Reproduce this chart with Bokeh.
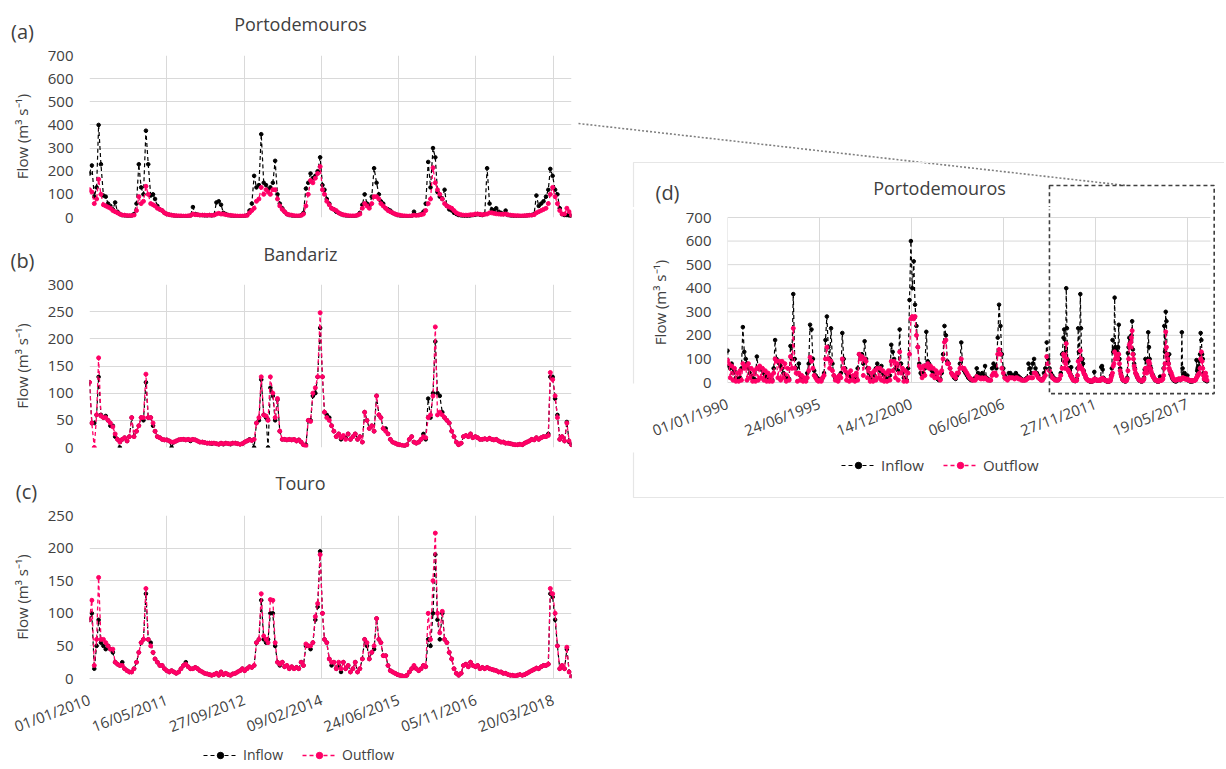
import pandas as pd
from bokeh.plotting import figure
from bokeh.layouts import row, column
from bokeh.models import (Range1d, FixedTicker, Label, Legend, LegendItem,
                          BoxAnnotation, ColumnDataSource, DatetimeTickFormatter)
from bokeh.embed import file_html
from bokeh.resources import INLINE

# ---------------- data ----------------
LEFT_START = "2010-01-01"
LEFT_END = "2018-07-16"
D_START = "1990-01-01"
D_END = "2018-09-29"
LEFT_TICKS = ["2010-01-01", "2011-05-16", "2012-09-27", "2014-02-09",
              "2015-06-24", "2016-11-05", "2018-03-20"]
D_TICKS = ["1990-01-01", "1995-06-24", "2000-12-14", "2006-06-06",
           "2011-11-27", "2017-05-19"]
LEGEND_LABELS = ["Inflow", "Outflow"]
TITLES = ["Portodemouros", "Bandariz", "Touro", "Portodemouros"]
PANEL_TAGS = ["(a)", "(b)", "(c)", "(d)"]
Y_LABEL = "Flow (m\u00b3 s\u207b\u00b9)"
ZOOM_BOX_DATES = ["2009-03-01", "2018-12-20"]   # dashed box in (d): period shown in (a)
ZOOM_BOX_FLOWS = [836, -47]

# Portodemouros 2010-2018 (1st and 16th of each month)
PORTO_IN = [
    190, 225, 90, 130, 400, 230, 95, 90, 60, 50, 35, 65, 25, 15, 10, 8, 7, 6, 8, 15, 60, 230, 130, 100,
    375, 230, 95, 100, 80, 50, 35, 30, 20, 15, 12, 10, 8, 6, 5, 5, 5, 5, 6, 8, 45, 15, 12, 10,
    10, 8, 8, 10, 8, 10, 65, 70, 55, 20, 15, 10, 8, 6, 5, 5, 5, 5, 6, 10, 30, 60, 180, 130,
    140, 360, 150, 140, 120, 130, 150, 245, 100, 60, 40, 25, 15, 10, 8, 6, 5, 5, 10, 20, 125, 150, 190, 170,
    180, 200, 260, 140, 120, 80, 60, 40, 35, 25, 20, 15, 10, 8, 6, 5, 5, 6, 10, 20, 55, 100, 60, 50,
    90, 213, 150, 100, 70, 60, 40, 35, 30, 20, 15, 10, 8, 6, 5, 5, 5, 6, 25, 10, 10, 15, 25, 60,
    240, 130, 300, 260, 110, 90, 80, 120, 50, 35, 30, 20, 15, 10, 8, 6, 5, 5, 8, 10, 12, 15, 12, 10,
    15, 213, 60, 35, 30, 40, 25, 20, 15, 30, 10, 8, 6, 5, 5, 5, 5, 6, 8, 10, 10, 15, 95, 50,
    60, 70, 90, 120, 210, 180, 120, 100, 40, 15, 10, 10, 8, 5]
PORTO_OUT = [
    120, 110, 60, 80, 165, 100, 55, 50, 45, 40, 30, 25, 20, 15, 10, 10, 8, 8, 8, 10, 30, 90, 60, 70,
    135, 100, 60, 55, 50, 40, 35, 30, 20, 15, 12, 10, 8, 8, 7, 7, 6, 6, 7, 8, 15, 12, 12, 10,
    10, 10, 9, 10, 9, 10, 15, 18, 15, 15, 12, 10, 9, 8, 7, 6, 6, 6, 7, 8, 20, 30, 40, 70,
    80, 130, 100, 120, 110, 100, 120, 120, 80, 50, 35, 25, 15, 12, 10, 8, 7, 7, 8, 15, 50, 100, 160, 150,
    170, 190, 220, 120, 100, 70, 55, 40, 35, 30, 20, 15, 12, 10, 8, 7, 7, 7, 10, 15, 40, 60, 50, 40,
    60, 90, 90, 80, 60, 50, 40, 30, 25, 20, 15, 12, 10, 8, 7, 6, 6, 7, 10, 8, 10, 12, 15, 30,
    60, 80, 215, 150, 120, 100, 80, 60, 50, 45, 40, 30, 20, 15, 12, 10, 10, 10, 12, 12, 15, 15, 14, 12,
    14, 15, 20, 20, 18, 16, 15, 14, 14, 15, 12, 10, 9, 8, 8, 7, 7, 8, 8, 9, 10, 12, 20, 25,
    30, 35, 40, 60, 100, 130, 90, 60, 30, 15, 15, 40, 25, 10]

# Bandariz 2010-2018
BAND_IN = [
    120, 45, 45, 60, 130, 60, 55, 58, 50, 40, 40, 20, 15, 0, 15, 18, 12, 20, 55, 20, 30, 40, 55, 50,
    120, 55, 55, 40, 30, 20, 18, 15, 14, 14, 12, 0, 10, 12, 14, 15, 15, 14, 15, 12, 15, 14, 12, 10,
    10, 9, 8, 8, 7, 8, 7, 6, 8, 6, 8, 7, 6, 8, 8, 7, 6, 7, 10, 12, 15, 13, 0, 45,
    50, 125, 60, 55, 0, 110, 95, 50, 88, 30, 15, 15, 14, 15, 14, 15, 12, 14, 10, 5, 5, 50, 50, 95,
    100, 130, 220, 130, 65, 60, 55, 40, 30, 20, 25, 15, 20, 18, 25, 15, 20, 25, 15, 20, 10, 65, 50, 35,
    40, 30, 95, 60, 55, 35, 35, 25, 15, 10, 8, 6, 5, 4, 3, 5, 15, 20, 10, 8, 10, 15, 25, 15,
    90, 55, 100, 195, 100, 95, 65, 55, 50, 45, 30, 20, 10, 5, 8, 20, 22, 20, 25, 18, 20, 18, 15, 15,
    16, 15, 17, 15, 14, 15, 12, 10, 10, 8, 8, 7, 6, 5, 5, 6, 5, 8, 10, 12, 15, 14, 18, 15,
    18, 20, 20, 25, 130, 130, 90, 60, 15, 20, 12, 47, 10, 5]
BAND_OUT = [
    120, 45, 0, 60, 165, 58, 55, 55, 50, 45, 38, 25, 15, 10, 15, 18, 12, 20, 55, 20, 30, 40, 55, 55,
    135, 55, 55, 45, 30, 20, 18, 15, 14, 14, 12, 10, 10, 12, 14, 15, 15, 14, 15, 14, 15, 14, 12, 10,
    10, 9, 8, 8, 8, 8, 7, 6, 8, 7, 8, 7, 7, 8, 8, 7, 6, 7, 10, 12, 14, 13, 15, 45,
    55, 130, 60, 58, 50, 130, 100, 55, 90, 30, 15, 15, 14, 15, 14, 15, 12, 14, 10, 5, 3, 50, 48, 100,
    110, 130, 248, 130, 65, 55, 50, 40, 30, 20, 25, 18, 22, 15, 25, 15, 20, 25, 15, 20, 10, 65, 50, 35,
    40, 30, 95, 60, 55, 35, 30, 25, 15, 10, 8, 6, 5, 4, 3, 5, 15, 20, 10, 8, 10, 15, 20, 18,
    55, 60, 95, 222, 60, 65, 60, 55, 50, 45, 30, 20, 10, 5, 8, 20, 22, 20, 25, 18, 20, 18, 15, 15,
    16, 15, 17, 15, 14, 15, 12, 10, 10, 8, 8, 7, 6, 5, 5, 6, 5, 8, 10, 12, 15, 14, 18, 15,
    18, 20, 20, 22, 138, 125, 95, 55, 15, 20, 12, 45, 12, 5]

# Touro 2010-2018
TOURO_IN = [
    90, 100, 15, 50, 90, 55, 50, 45, 50, 45, 40, 25, 22, 20, 25, 15, 12, 10, 10, 15, 25, 40, 55, 60,
    130, 60, 55, 40, 30, 25, 20, 20, 15, 12, 10, 12, 10, 8, 10, 15, 20, 25, 18, 15, 15, 17, 15, 12,
    10, 8, 7, 6, 5, 6, 8, 5, 10, 6, 8, 6, 5, 7, 8, 10, 12, 15, 12, 15, 18, 17, 20, 55,
    60, 120, 60, 55, 60, 100, 100, 50, 25, 20, 25, 18, 20, 15, 18, 15, 17, 15, 25, 20, 50, 50, 45, 55,
    90, 110, 195, 100, 60, 55, 30, 20, 25, 15, 20, 10, 25, 15, 20, 10, 15, 25, 10, 15, 30, 60, 50, 30,
    40, 45, 92, 60, 55, 35, 35, 20, 12, 10, 8, 6, 5, 4, 3, 5, 10, 15, 18, 15, 12, 15, 20, 18,
    60, 50, 100, 190, 90, 60, 100, 60, 55, 40, 30, 15, 8, 5, 8, 20, 22, 18, 25, 20, 18, 20, 15, 17,
    15, 17, 15, 14, 13, 12, 10, 10, 8, 8, 6, 5, 5, 4, 5, 6, 5, 6, 8, 10, 12, 14, 16, 15,
    18, 20, 20, 22, 130, 125, 90, 50, 15, 20, 15, 45, 10, 3]
TOURO_OUT = [
    90, 120, 20, 60, 155, 60, 60, 55, 50, 45, 45, 25, 22, 20, 20, 15, 12, 10, 10, 15, 25, 40, 55, 60,
    138, 60, 50, 40, 30, 25, 20, 20, 15, 12, 10, 12, 10, 8, 10, 15, 20, 22, 18, 15, 15, 17, 15, 12,
    10, 8, 7, 6, 5, 6, 8, 5, 10, 6, 8, 6, 5, 7, 8, 10, 12, 15, 12, 15, 18, 17, 20, 55,
    60, 130, 65, 60, 55, 121, 120, 55, 25, 22, 25, 18, 20, 15, 18, 15, 17, 15, 25, 20, 53, 50, 50, 55,
    95, 115, 190, 100, 60, 55, 30, 25, 25, 15, 25, 15, 25, 15, 20, 10, 15, 25, 10, 15, 30, 60, 55, 30,
    40, 50, 92, 60, 55, 35, 35, 20, 12, 10, 8, 6, 5, 4, 3, 5, 10, 15, 20, 15, 12, 15, 20, 18,
    100, 60, 150, 223, 100, 70, 103, 60, 55, 40, 30, 15, 8, 5, 8, 20, 22, 18, 25, 20, 18, 20, 15, 17,
    15, 17, 15, 14, 13, 12, 10, 10, 8, 8, 6, 5, 5, 4, 5, 6, 5, 6, 8, 10, 12, 14, 16, 15,
    18, 20, 20, 22, 138, 130, 100, 50, 15, 20, 15, 48, 10, 3]

# Portodemouros 1990-2009 (monthly), continued by PORTO_IN / PORTO_OUT
PD_IN_EARLY = [
    135, 70, 60, 80, 40, 50, 20, 15, 10, 20, 60, 235,
    130, 100, 80, 60, 40, 30, 20, 15, 10, 110, 60, 60,
    60, 50, 40, 30, 20, 15, 10, 10, 10, 60, 180, 100,
    90, 80, 70, 60, 40, 30, 20, 15, 15, 155, 100, 375,
    100, 60, 40, 80, 30, 20, 15, 10, 10, 40, 80, 245,
    225, 100, 50, 30, 20, 15, 10, 10, 20, 40, 180, 280,
    150, 100, 230, 80, 30, 20, 15, 10, 30, 40, 210, 100,
    60, 40, 35, 30, 25, 20, 15, 10, 20, 60, 120, 110,
    120, 80, 175, 100, 60, 40, 20, 15, 10, 30, 60, 80,
    60, 50, 70, 40, 30, 20, 15, 10, 30, 160, 130, 100,
    60, 70, 50, 225, 80, 40, 20, 15, 10, 60, 350, 600,
    400, 514, 330, 240, 150, 80, 40, 30, 40, 60, 215, 90,
    80, 60, 50, 40, 30, 20, 15, 10, 15, 40, 120, 240,
    200, 90, 80, 60, 40, 30, 20, 15, 30, 40, 80, 170,
    60, 50, 40, 30, 20, 15, 10, 10, 15, 20, 60, 40,
    30, 25, 40, 30, 70, 20, 15, 10, 10, 60, 80, 70,
    60, 190, 330, 240, 120, 60, 30, 20, 15, 40, 40, 30,
    30, 30, 40, 30, 25, 20, 15, 10, 10, 15, 20, 80,
    60, 40, 80, 100, 60, 40, 30, 15, 10, 15, 40, 60,
    170, 100, 60, 40, 30, 20, 15, 10, 10, 15, 40, 120]
PD_OUT_EARLY = [
    95, 80, 20, 70, 10, 60, 5, 40, 5, 50, 10, 80,
    60, 70, 10, 80, 20, 60, 5, 50, 5, 60, 10, 70,
    20, 60, 10, 50, 5, 40, 5, 30, 5, 40, 100, 90,
    20, 90, 10, 90, 20, 80, 5, 60, 10, 110, 60, 230,
    60, 40, 5, 40, 10, 30, 5, 20, 5, 20, 50, 107,
    90, 60, 30, 20, 10, 5, 10, 5, 20, 30, 100, 150,
    100, 60, 90, 50, 30, 10, 20, 5, 30, 20, 100, 60,
    50, 10, 40, 5, 50, 10, 30, 5, 40, 10, 120, 100,
    110, 30, 100, 90, 20, 60, 5, 40, 5, 50, 10, 60,
    20, 60, 10, 50, 5, 40, 5, 50, 10, 90, 50, 90,
    20, 80, 10, 130, 40, 60, 5, 50, 5, 40, 120, 270,
    280, 270, 280, 200, 150, 70, 60, 20, 70, 30, 70, 80,
    60, 70, 30, 60, 20, 50, 20, 40, 10, 50, 100, 171,
    180, 80, 80, 60, 40, 30, 30, 20, 40, 40, 60, 100,
    60, 60, 50, 40, 30, 20, 15, 10, 10, 10, 25, 20,
    20, 15, 20, 15, 20, 15, 10, 10, 10, 30, 40, 40,
    30, 120, 140, 120, 60, 40, 20, 15, 10, 20, 20, 20,
    20, 15, 20, 20, 15, 15, 10, 10, 10, 10, 15, 20,
    20, 20, 20, 40, 40, 30, 20, 15, 10, 10, 20, 30,
    110, 80, 50, 30, 20, 15, 10, 10, 10, 15, 30, 60]

# ---------------- dates ----------------
LEFT_DATES = [pd.Timestamp(y, m, d) for y in range(2010, 2019) for m in range(1, 13)
              for d in (1, 16) if pd.Timestamp(y, m, d) <= pd.Timestamp(LEFT_END)]
EARLY_DATES = [pd.Timestamp(y, m, 1) for y in range(1990, 2010) for m in range(1, 13)]
D_DATES = EARLY_DATES + LEFT_DATES
D_IN = PD_IN_EARLY + PORTO_IN
D_OUT = PD_OUT_EARLY + PORTO_OUT

for arr in (PORTO_IN, PORTO_OUT, BAND_IN, BAND_OUT, TOURO_IN, TOURO_OUT):
    assert len(arr) == len(LEFT_DATES), (len(arr), len(LEFT_DATES))
assert len(PD_IN_EARLY) == len(EARLY_DATES) == len(PD_OUT_EARLY)

# ---------------- style ----------------
FONT = "Open Sans"
TXT = "#404040"
GRID = "#D9D9D9"
INK = "#000000"
PINK = "#FF0066"
DASH = "4 3"
FMT = "%d/%m/%Y"
ANGLE = 0.36
TAG_SIZE = "20px"

# page geometry of panel (d) axes (used to align the decorations around it)
D_X0_PX, D_PX_PER_DAY = 727, 92 / 2000
D_Y0_PX, D_PX_PER_UNIT = 382, 165 / 700


def ms(s):
    return float(pd.Timestamp(s).value // 10**6)


def d_date(px):
    return pd.Timestamp(D_START) + pd.Timedelta(days=(px - D_X0_PX) / D_PX_PER_DAY)


def d_flow(py):
    return (D_Y0_PX - py) / D_PX_PER_UNIT


def blank(w, h, xr=(0, 1), yr=(0, 1)):
    p = figure(width=w, height=h, x_range=Range1d(*xr), y_range=Range1d(*yr),
               x_axis_type=None, y_axis_type=None, min_border=0,
               output_backend="svg", toolbar_location=None, outline_line_color=None,
               background_fill_color="white", border_fill_color="white")
    p.xgrid.visible = False
    p.ygrid.visible = False
    return p


def d_blank(x0, y0, x1, y1):
    return blank(x1 - x0, y1 - y0, (ms(d_date(x0)), ms(d_date(x1))), (d_flow(y1), d_flow(y0)))


def panel(fw, fh, bl, br, bt, bb, x0, x1, yr, ymax, ystep, ticks, show_x,
          standoff=12, manual_grid=None):
    p = figure(x_axis_type="datetime", frame_width=fw, frame_height=fh,
               x_range=Range1d(ms(x0), ms(x1)), y_range=Range1d(*yr),
               min_border_left=bl, min_border_right=br, min_border_top=bt,
               min_border_bottom=bb, output_backend="svg", toolbar_location=None,
               outline_line_color=None, background_fill_color="white",
               border_fill_color="white")
    xt_vals = [ms(t) for t in ticks]
    yt_vals = list(range(0, ymax + 1, ystep))
    xt = FixedTicker(ticks=xt_vals)
    yt = FixedTicker(ticks=yt_vals)
    p.xaxis.ticker = xt
    p.yaxis.ticker = yt
    if manual_grid is None:
        p.xgrid.ticker = xt
        p.ygrid.ticker = yt
        for g in (p.xgrid, p.ygrid):
            g.grid_line_color = GRID
            g.grid_line_width = 1
    else:
        p.xgrid.visible = False
        p.ygrid.visible = False
        g0, g1 = ms(manual_grid[0]), ms(manual_grid[1])
        p.segment(x0=xt_vals, y0=[0] * len(xt_vals), x1=xt_vals, y1=[ymax] * len(xt_vals),
                  line_color=GRID, line_width=1, level="underlay")
        p.segment(x0=[g0] * len(yt_vals), y0=yt_vals, x1=[g1] * len(yt_vals), y1=yt_vals,
                  line_color=GRID, line_width=1, level="underlay")
    ya = p.yaxis[0]
    ya.axis_line_color = None
    ya.major_tick_line_color = None
    ya.minor_tick_line_color = None
    ya.major_tick_out = 0
    ya.major_label_standoff = 16
    ya.major_label_text_font = FONT
    ya.major_label_text_font_size = "15px"
    ya.major_label_text_color = TXT
    ya.axis_label = Y_LABEL
    ya.axis_label_text_font = FONT
    ya.axis_label_text_font_size = "15px"
    ya.axis_label_text_font_style = "normal"
    ya.axis_label_text_color = TXT
    ya.axis_label_standoff = 13
    xa = p.xaxis[0]
    if show_x:
        xa.axis_line_color = GRID if manual_grid is None else None
        xa.major_tick_line_color = None
        xa.minor_tick_line_color = None
        xa.major_tick_out = 0
        xa.major_tick_in = 0
        xa.major_label_standoff = standoff
        xa.major_label_orientation = ANGLE
        xa.major_label_text_font = FONT
        xa.major_label_text_font_size = "15px"
        xa.major_label_text_color = TXT
        xa.formatter = DatetimeTickFormatter(
            milliseconds=FMT, seconds=FMT, minsec=FMT, minutes=FMT, hourmin=FMT,
            hours=FMT, days=FMT, months=FMT, years=FMT)
    else:
        xa.visible = False
    return p


def series(p, dates, inflow, outflow):
    src = ColumnDataSource(dict(x=dates, i=inflow, o=outflow))
    p.line("x", "i", source=src, line_color=INK, line_width=1.2, line_dash=DASH)
    p.scatter("x", "i", source=src, size=3.6, color=INK)
    p.line("x", "o", source=src, line_color=PINK, line_width=1.3, line_dash=DASH)
    p.scatter("x", "o", source=src, size=4, color=PINK)


def text(p, s, x, y, size):
    p.add_layout(Label(x=x, y=y, x_units="screen", y_units="screen", text=s,
                       text_font=FONT, text_font_size=size, text_color=TXT,
                       text_align="center", text_baseline="middle"))


def legend(p, x, y, far, size="15px"):
    # legend keys only: the sample renderers sit outside the visible range
    fx, fy = [far[0], far[0]], [far[1], far[1]]
    li = p.line(x=fx, y=fy, line_color=INK, line_width=1.2, line_dash=DASH)
    si = p.scatter(x=fx, y=fy, size=3.6, color=INK)
    lo = p.line(x=fx, y=fy, line_color=PINK, line_width=1.3, line_dash=DASH)
    so = p.scatter(x=fx, y=fy, size=4, color=PINK)
    leg = Legend(items=[LegendItem(label=LEGEND_LABELS[0], renderers=[li, si]),
                        LegendItem(label=LEGEND_LABELS[1], renderers=[lo, so])],
                 location=(x, y), orientation="horizontal", glyph_width=34,
                 glyph_height=16, label_height=16, label_standoff=6, spacing=19,
                 padding=0, margin=0, border_line_color=None,
                 background_fill_alpha=0, label_text_font=FONT,
                 label_text_font_size=size, label_text_color=TXT)
    p.add_layout(leg)


# ---------------- left column: (a), (b), (c) ----------------
hdr_a = blank(574, 45)
text(hdr_a, TITLES[0], 300, 22, "18px")
text(hdr_a, PANEL_TAGS[0], 22, 14, TAG_SIZE)
fa = panel(482, 162, 89, 3, 10, 23, LEFT_START, LEFT_END, (0, 700), 700, 100, LEFT_TICKS, False)
series(fa, LEFT_DATES, PORTO_IN, PORTO_OUT)

hdr_b = blank(574, 34)
text(hdr_b, TITLES[1], 300, 21, "18px")
text(hdr_b, PANEL_TAGS[1], 22, 14, TAG_SIZE)
fb = panel(482, 163, 89, 3, 10, 21, LEFT_START, LEFT_END, (0, 300), 300, 50, LEFT_TICKS, False)
series(fb, LEFT_DATES, BAND_IN, BAND_OUT)

hdr_c = blank(574, 37)
text(hdr_c, TITLES[2], 300, 23, "18px")
text(hdr_c, PANEL_TAGS[2], 26, 14, TAG_SIZE)
fc = panel(482, 163, 89, 3, 10, 58, LEFT_START, LEFT_END, (0, 250), 250, 50, LEFT_TICKS, True,
           standoff=20)
series(fc, LEFT_DATES, TOURO_IN, TOURO_OUT)

ftr_c = blank(574, 32)
legend(ftr_c, 203, 16, (-5, -5), "14px")

# ---------------- right column: (d) ----------------
light_box = dict(left=ms(d_date(633)), right=ms(d_date(1400)), top=d_flow(162),
                 bottom=d_flow(485), fill_color=None, line_color="#E6E6E6",
                 line_alpha=1, line_width=1.2)
zoom_box = dict(left=ms(ZOOM_BOX_DATES[0]), right=ms(ZOOM_BOX_DATES[1]),
                top=ZOOM_BOX_FLOWS[0], bottom=ZOOM_BOX_FLOWS[1], fill_color=None,
                line_color="#404040", line_alpha=1, line_width=1.6, line_dash=DASH)

hdr_d = d_blank(574, 0, 1224, 207)
hdr_d.add_layout(BoxAnnotation(**light_box))
hdr_d.add_layout(BoxAnnotation(**zoom_box))
hdr_d.line(x=[ms(d_date(578)), ms(d_date(1125))], y=[d_flow(123), ZOOM_BOX_FLOWS[0]],
           line_color="#7F7F7F", line_width=1.6, line_dash="2 2")
text(hdr_d, TITLES[3], 365, 20, "18px")
text(hdr_d, PANEL_TAGS[3], 93, 15, TAG_SIZE)

strip = d_blank(574, 207, 640, 440)
strip.add_layout(BoxAnnotation(**light_box))

fd = panel(488, 186, 87, 9, 2, 45, D_START, d_date(1215), (d_flow(395), d_flow(209)),
           700, 100, D_TICKS, True, standoff=7, manual_grid=(D_START, D_END))
series(fd, D_DATES, D_IN, D_OUT)
fd.add_layout(BoxAnnotation(**zoom_box))

ftr_d = d_blank(574, 440, 1224, 767)
ftr_d.add_layout(BoxAnnotation(**light_box))
legend(ftr_d, 267, 304, (ms("1900-01-01"), -5000))

layout = row(column(row(hdr_a), fa, row(hdr_b), fb, row(hdr_c), fc, row(ftr_c)),
             column(hdr_d, row(strip, fd), ftr_d))
open("out.html", "w").write(file_html(layout, INLINE, "Flows"))
